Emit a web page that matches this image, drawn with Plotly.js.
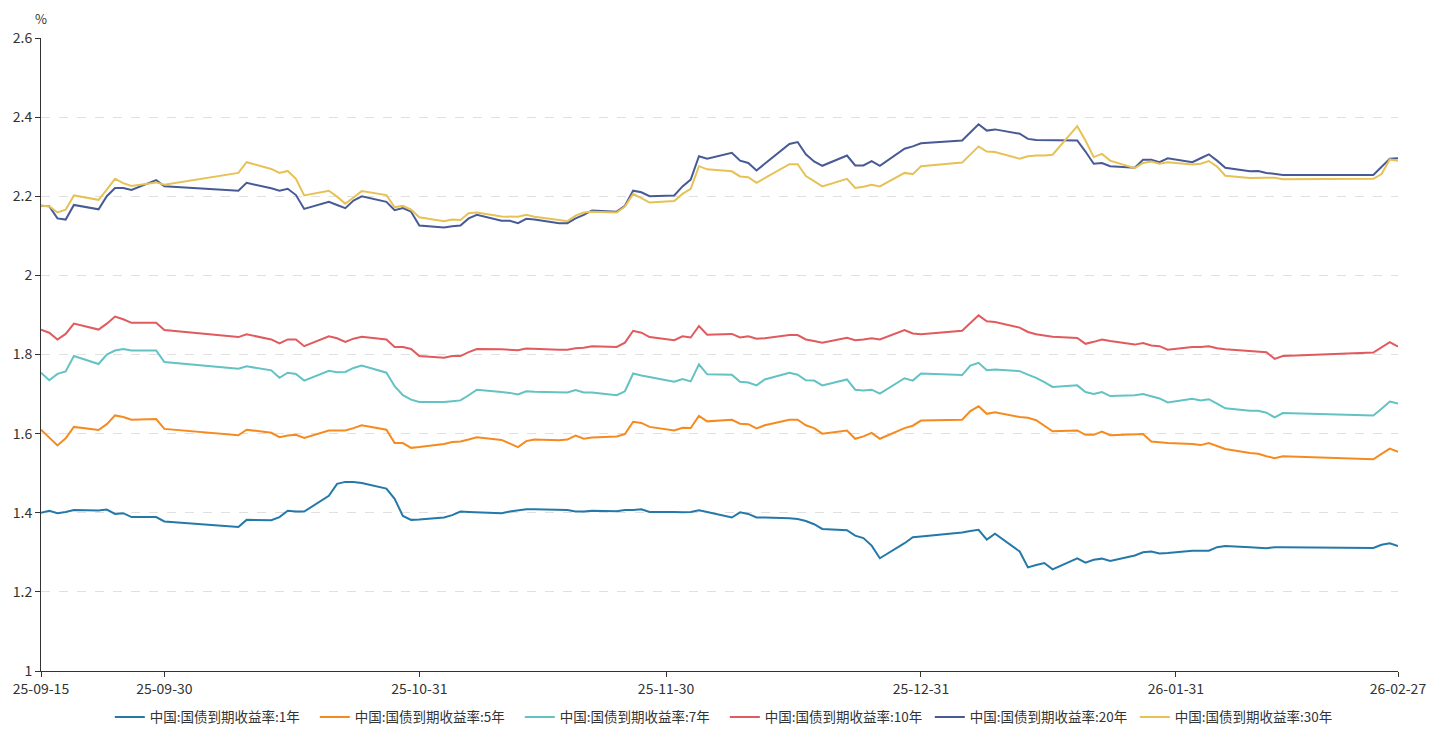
<!DOCTYPE html>
<html>
<head>
<meta charset="utf-8">
<script src="https://cdn.plot.ly/plotly-3.0.1.min.js"></script>
<style>
html,body{margin:0;padding:0;background:#fff;}
#chart{width:1441px;height:731px;}
</style>
</head>
<body>
<div id="chart"></div>
<script>
const dates = [
"2025-09-15","2025-09-16","2025-09-17","2025-09-18","2025-09-19",
"2025-09-22","2025-09-23","2025-09-24","2025-09-25","2025-09-26",
"2025-09-29","2025-09-30",
"2025-10-09","2025-10-10",
"2025-10-13","2025-10-14","2025-10-15","2025-10-16","2025-10-17",
"2025-10-20","2025-10-21","2025-10-22","2025-10-23","2025-10-24",
"2025-10-27","2025-10-28","2025-10-29","2025-10-30","2025-10-31",
"2025-11-03","2025-11-04","2025-11-05","2025-11-06","2025-11-07",
"2025-11-10","2025-11-11","2025-11-12","2025-11-13","2025-11-14",
"2025-11-17","2025-11-18","2025-11-19","2025-11-20","2025-11-21",
"2025-11-24","2025-11-25","2025-11-26","2025-11-27","2025-11-28",
"2025-12-01","2025-12-02","2025-12-03","2025-12-04","2025-12-05",
"2025-12-08","2025-12-09","2025-12-10","2025-12-11","2025-12-12",
"2025-12-15","2025-12-16","2025-12-17","2025-12-18","2025-12-19",
"2025-12-22","2025-12-23","2025-12-24","2025-12-25","2025-12-26",
"2025-12-29","2025-12-30","2025-12-31",
"2026-01-05","2026-01-06","2026-01-07","2026-01-08","2026-01-09",
"2026-01-12","2026-01-13","2026-01-14","2026-01-15","2026-01-16",
"2026-01-19","2026-01-20","2026-01-21","2026-01-22","2026-01-23",
"2026-01-26","2026-01-27","2026-01-28","2026-01-29","2026-01-30",
"2026-02-02","2026-02-03","2026-02-04","2026-02-05","2026-02-06",
"2026-02-09","2026-02-10","2026-02-11","2026-02-12","2026-02-13",
"2026-02-24","2026-02-25","2026-02-26","2026-02-27"
];

const y1 = [
1.400,1.405,1.399,1.402,1.407,
1.406,1.408,1.397,1.399,1.389,
1.389,1.378,
1.364,1.382,
1.381,1.389,1.405,1.403,1.403,
1.443,1.473,1.478,1.478,1.475,
1.461,1.435,1.392,1.382,1.383,
1.388,1.394,1.403,1.402,1.401,
1.399,1.403,1.406,1.409,1.409,
1.407,1.407,1.403,1.403,1.405,
1.404,1.407,1.407,1.409,1.402,
1.402,1.401,1.402,1.406,1.402,
1.388,1.401,1.397,1.388,1.388,
1.386,1.384,1.379,1.371,1.359,
1.356,1.342,1.336,1.317,1.285,
1.323,1.338,1.340,
1.350,1.354,1.357,1.332,1.347,
1.302,1.262,1.268,1.273,1.257,
1.285,1.274,1.281,1.284,1.278,
1.292,1.300,1.302,1.297,1.298,
1.304,1.304,1.304,1.313,1.316,
1.313,1.311,1.310,1.313,1.313,
1.311,1.319,1.323,1.316
];

const y5 = [
1.610,1.591,1.570,1.588,1.617,
1.609,1.624,1.646,1.642,1.635,
1.637,1.612,
1.596,1.610,
1.602,1.591,1.595,1.597,1.589,
1.608,1.608,1.608,1.614,1.621,
1.610,1.576,1.576,1.564,1.566,
1.574,1.579,1.580,1.585,1.591,
1.584,1.575,1.566,1.581,1.585,
1.583,1.585,1.595,1.587,1.590,
1.593,1.599,1.630,1.627,1.617,
1.608,1.615,1.614,1.645,1.631,
1.635,1.625,1.624,1.613,1.621,
1.635,1.635,1.621,1.614,1.600,
1.608,1.587,1.593,1.602,1.587,
1.614,1.620,1.633,
1.635,1.657,1.669,1.650,1.654,
1.642,1.640,1.634,1.619,1.606,
1.608,1.597,1.597,1.605,1.596,
1.597,1.599,1.580,1.578,1.576,
1.574,1.571,1.576,1.568,1.561,
1.551,1.549,1.543,1.538,1.543,
1.535,1.549,1.562,1.554
];

const y7 = [
1.754,1.735,1.751,1.757,1.796,
1.776,1.800,1.810,1.814,1.810,
1.810,1.781,
1.764,1.770,
1.760,1.741,1.754,1.751,1.734,
1.759,1.755,1.756,1.766,1.772,
1.754,1.720,1.697,1.686,1.680,
1.680,1.682,1.684,1.697,1.711,
1.705,1.703,1.699,1.707,1.706,
1.705,1.704,1.710,1.704,1.704,
1.697,1.707,1.752,1.747,1.743,
1.731,1.738,1.732,1.775,1.750,
1.749,1.731,1.729,1.722,1.737,
1.754,1.749,1.735,1.734,1.722,
1.737,1.711,1.709,1.711,1.701,
1.740,1.734,1.752,
1.748,1.772,1.779,1.760,1.762,
1.758,1.749,1.741,1.730,1.718,
1.722,1.705,1.700,1.705,1.695,
1.697,1.700,1.694,1.689,1.679,
1.688,1.684,1.687,1.676,1.664,
1.658,1.658,1.653,1.641,1.652,
1.646,1.663,1.681,1.676
];

const y10 = [
1.863,1.855,1.838,1.852,1.878,
1.863,1.878,1.896,1.889,1.880,
1.880,1.862,
1.844,1.851,
1.838,1.828,1.838,1.838,1.821,
1.846,1.841,1.832,1.840,1.845,
1.838,1.819,1.819,1.814,1.796,
1.792,1.796,1.796,1.806,1.814,
1.813,1.812,1.811,1.815,1.814,
1.812,1.812,1.816,1.817,1.821,
1.819,1.830,1.860,1.855,1.844,
1.836,1.846,1.843,1.872,1.850,
1.852,1.843,1.846,1.840,1.841,
1.849,1.849,1.838,1.834,1.830,
1.842,1.836,1.838,1.841,1.838,
1.862,1.853,1.851,
1.860,1.880,1.899,1.884,1.882,
1.868,1.857,1.851,1.848,1.845,
1.842,1.827,1.832,1.838,1.834,
1.825,1.829,1.823,1.821,1.812,
1.819,1.819,1.821,1.816,1.813,
1.808,1.808,1.806,1.789,1.796,
1.805,1.819,1.831,1.820
];

const y20 = [
2.176,2.175,2.144,2.141,2.178,
2.167,2.200,2.221,2.221,2.216,
2.241,2.225,
2.214,2.234,
2.220,2.214,2.219,2.203,2.168,
2.186,2.178,2.170,2.189,2.200,
2.186,2.165,2.170,2.161,2.126,
2.121,2.124,2.126,2.144,2.153,
2.138,2.138,2.132,2.143,2.141,
2.132,2.132,2.144,2.153,2.164,
2.161,2.176,2.214,2.210,2.200,
2.202,2.225,2.242,2.301,2.295,
2.310,2.290,2.284,2.265,2.282,
2.332,2.337,2.306,2.288,2.277,
2.303,2.278,2.278,2.289,2.277,
2.320,2.326,2.334,
2.341,2.362,2.382,2.366,2.369,
2.358,2.345,2.342,2.342,2.341,
2.341,2.313,2.282,2.284,2.276,
2.272,2.292,2.292,2.286,2.296,
2.286,2.296,2.306,2.290,2.272,
2.263,2.264,2.259,2.257,2.254,
2.254,2.274,2.295,2.296
];

const y30 = [
2.176,2.175,2.159,2.166,2.202,
2.191,2.217,2.244,2.233,2.226,
2.235,2.229,
2.259,2.286,
2.269,2.259,2.264,2.244,2.202,
2.214,2.199,2.181,2.197,2.213,
2.203,2.172,2.176,2.166,2.147,
2.137,2.141,2.140,2.157,2.159,
2.149,2.148,2.148,2.153,2.148,
2.140,2.137,2.151,2.159,2.161,
2.159,2.174,2.206,2.195,2.184,
2.188,2.206,2.219,2.276,2.268,
2.263,2.250,2.248,2.234,2.246,
2.281,2.281,2.251,2.238,2.225,
2.244,2.221,2.224,2.229,2.225,
2.259,2.256,2.276,
2.285,2.305,2.326,2.313,2.312,
2.295,2.301,2.303,2.303,2.305,
2.377,2.341,2.299,2.307,2.290,
2.271,2.284,2.288,2.282,2.286,
2.280,2.282,2.289,2.275,2.252,
2.246,2.247,2.247,2.247,2.243,
2.244,2.256,2.293,2.290
];

const seriesNames = ["中国:国债到期收益率:1年","中国:国债到期收益率:5年","中国:国债到期收益率:7年",
                     "中国:国债到期收益率:10年","中国:国债到期收益率:20年","中国:国债到期收益率:30年"];
const seriesColors = ["#2479a9","#f58b1f","#62c2c4","#e05a5e","#475a96","#e6c256"];
const seriesValues = [y1,y5,y7,y10,y20,y30];

const xTickVals = ["2025-09-15","2025-09-30","2025-10-31","2025-11-30","2025-12-31","2026-01-31","2026-02-27"];
const xTickText = ["25-09-15","25-09-30","25-10-31","25-11-30","25-12-31","26-01-31","26-02-27"];
const yTickVals = [1,1.2,1.4,1.6,1.8,2,2.2,2.4,2.6];
const yTickText = ["1","1.2","1.4","1.6","1.8","2","2.2","2.4","2.6"];

const FONT = "'Noto Sans CJK SC','Noto Sans',sans-serif";

const traces = seriesValues.map((v,i)=>({
  type:"scatter", mode:"lines", x:dates, y:v, name:seriesNames[i],
  line:{color:seriesColors[i], width:2}, hoverinfo:"x+y+name"
}));

const layout = {
  width:1441, height:731,
  margin:{l:41, r:43, t:38, b:60},
  paper_bgcolor:"#fff", plot_bgcolor:"#fff",
  font:{family:FONT, size:14, color:"#333"},
  showlegend:true,
  legend:{orientation:"h", x:0.503, xanchor:"center", xref:"container",
          y:0.019, yanchor:"middle", yref:"container",
          font:{family:FONT, size:13.5, color:"#333"}, entrywidth:160, entrywidthmode:"pixels",
          itemwidth:30, traceorder:"normal"},
  xaxis:{type:"date", range:["2025-09-15","2026-02-27"], tickmode:"array",
         tickvals:xTickVals, ticktext:xTickText, showgrid:false, zeroline:false,
         showline:true, linecolor:"#333", linewidth:1, ticks:"outside", ticklen:5, tickcolor:"#333",
         tickfont:{family:FONT, size:14, color:"#333"}, fixedrange:true, automargin:false},
  yaxis:{range:[1,2.6], tickmode:"array", tickvals:yTickVals, ticktext:yTickText,
         showgrid:true, gridcolor:"#e0e0e0", griddash:"dash", gridwidth:1, zeroline:false,
         showline:true, linecolor:"#333", linewidth:1, ticks:"outside", ticklen:5, tickcolor:"#333",
         tickfont:{family:FONT, size:14, color:"#333"}, fixedrange:true, automargin:false},
  annotations:[{text:"%", xref:"paper", yref:"paper", x:0, y:1, xanchor:"center", yanchor:"bottom",
                yshift:8, showarrow:false, font:{family:FONT, size:13, color:"#333"}}]
};

Plotly.newPlot("chart", traces, layout, {displayModeBar:false, staticPlot:true});
</script>
</body>
</html>
